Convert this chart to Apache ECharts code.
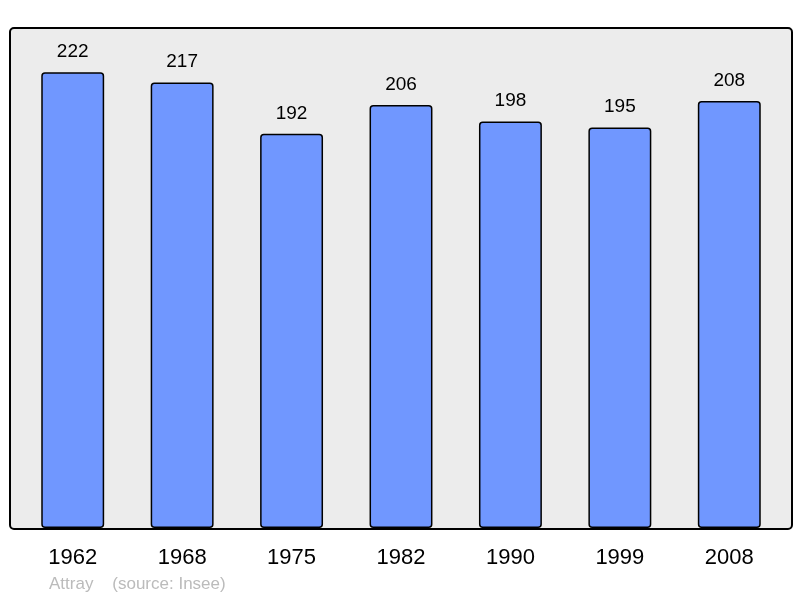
<!DOCTYPE html>
<html><head><meta charset="utf-8">
<script src="https://cdn.jsdelivr.net/npm/echarts@6/dist/echarts.min.js"></script>
<style>html,body{margin:0;padding:0;background:#fff}#c{width:800px;height:598px}</style>
</head><body><div id="c"></div>
<script>
var categories = ['1962','1968','1975','1982','1990','1999','2008'];
var population = [222,217,192,206,198,195,208];
var sourceText = 'Attray    (source: Insee)';

var chart = echarts.init(document.getElementById('c'), null, {renderer:'canvas'});
chart.setOption({
  animation:false,
  backgroundColor:'#ffffff',
  grid:{left:18,right:16,top:27,bottom:70,containLabel:false},
  graphic:[
    {type:'rect',left:9,top:27,z:-10,shape:{width:782,height:501,r:4},style:{fill:'#ececec',stroke:'#000',lineWidth:2}},
    {type:'text',left:49,top:576,style:{text:sourceText,fill:'#bbbbbb',font:'17px "Liberation Sans", Arial, sans-serif'}}
  ],
  xAxis:{type:'category',data:categories,
    axisLine:{show:false},axisTick:{show:false},
    axisLabel:{margin:19,fontSize:22,color:'#000',fontFamily:'"Liberation Sans", Arial, sans-serif'}},
  yAxis:{type:'value',min:0,max:244,show:false,splitLine:{show:false}},
  series:[{type:'bar',data:population,barWidth:'57.5%',
    itemStyle:{color:'#7097ff',borderColor:'#000',borderWidth:1.5,borderRadius:3},
    label:{show:true,position:'top',distance:11,fontSize:19,color:'#000',fontFamily:'"Liberation Sans", Arial, sans-serif'}}]
});
</script></body></html>
